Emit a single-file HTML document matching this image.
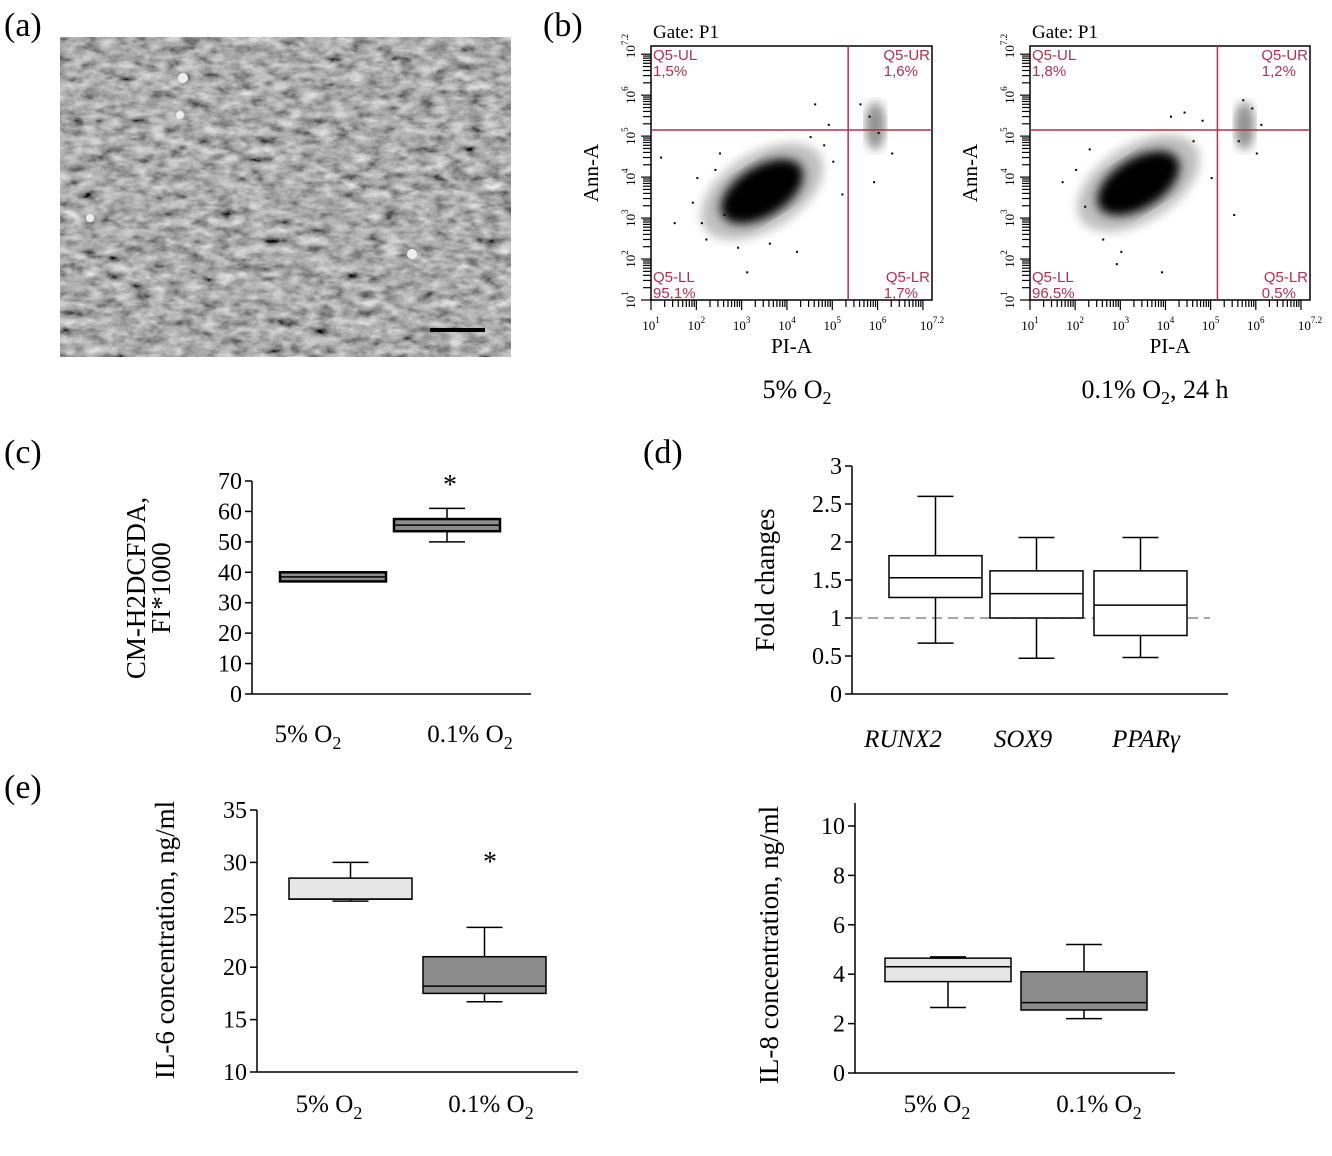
<!DOCTYPE html>
<html><head><meta charset="utf-8"><style>
body{margin:0;background:#fff}
svg{display:block;font-family:"Liberation Serif",serif}
</style></head><body>
<svg id="fig" width="1332" height="1156" viewBox="0 0 1332 1156" xmlns="http://www.w3.org/2000/svg">
<defs>
<filter id="tex" x="0" y="0" width="100%" height="100%">
<feTurbulence type="fractalNoise" baseFrequency="0.06 0.11" numOctaves="4" seed="4"/>
<feColorMatrix type="matrix" values="0.33 0.33 0.33 0 0  0.33 0.33 0.33 0 0  0.33 0.33 0.33 0 0  0 0 0 0 1"/>
<feComponentTransfer><feFuncR type="linear" slope="1.8" intercept="-0.45"/><feFuncG type="linear" slope="1.8" intercept="-0.45"/><feFuncB type="linear" slope="1.8" intercept="-0.45"/></feComponentTransfer>
</filter>
<filter id="blur3"><feGaussianBlur stdDeviation="5"/></filter>
</defs>
<g font-size="34">
<text x="4" y="36">(a)</text>
<text x="543" y="36">(b)</text>
<text x="4" y="463">(c)</text>
<text x="643" y="463">(d)</text>
<text x="4" y="798">(e)</text>
</g>
<g>
<rect x="60" y="37" width="451" height="320" fill="#777"/>
<rect x="60" y="37" width="451" height="320" filter="url(#tex)" opacity="0.9"/>
<circle cx="183" cy="78" r="5" fill="#eee"/><circle cx="180" cy="115" r="4" fill="#eee"/><circle cx="90" cy="218" r="4" fill="#eee"/><circle cx="412" cy="254" r="5" fill="#eee"/>
<rect x="430" y="328" width="55" height="4" fill="#000"/>
</g>
<g id="flow"></g>
<text x="797" y="398" font-size="26" text-anchor="middle">5% O<tspan font-size="18" dy="6">2</tspan></text>
<text x="1155" y="398" font-size="26" text-anchor="middle">0.1% O<tspan font-size="18" dy="6">2</tspan><tspan dy="-6">, 24 h</tspan></text>
<g id="charts"></g>
</svg>
<script>
const NS="http://www.w3.org/2000/svg";
function mk(p,t,a,txt){const e=document.createElementNS(NS,t);for(const k in a)e.setAttribute(k,a[k]);if(txt!==undefined)e.textContent=txt;p.appendChild(e);return e;}
// ---------- flow cytometry data ----------
const flowPlots=["5% O2","0.1% O2"];
const gateX=[5.35,5.15];
const gateY=[5.15,5.15];
const cloudCenterX=[3.45,3.4];
const cloudCenterY=[3.65,3.85];
const quadValsUL=["1,5%","1,8%"];
const quadValsUR=["1,6%","1,2%"];
const quadValsLL=["95,1%","96,5%"];
const quadValsLR=["1,7%","0,5%"];
const outlierX=[[1.2,1.9,2.2,2.6,2.9,4.6,4.9,5.6,5.8,6.0,5.9,6.3,2.4,3.1,4.2,5.0,1.5,2.0,2.5,4.5,4.8,5.2,3.6,2.1],[1.7,2.2,2.6,2.9,4.4,4.8,5.7,5.9,6.1,5.5,6.0,3.9,5.6,2.3,4.1,2.0,4.6,5.0,3.0]];
const outlierY=[[4.5,3.4,2.5,3.1,2.3,5.8,5.3,5.8,5.5,5.1,3.9,4.6,4.2,1.7,2.2,4.4,2.9,4.0,4.6,5.0,4.8,3.6,2.4,2.9],[3.9,3.3,2.5,1.9,5.6,5.4,5.9,5.7,5.3,3.1,4.6,1.7,4.9,4.7,5.5,4.2,4.9,4.0,2.2]];
const flowFrames=[{x0:651,x1:932},{x0:1030,x1:1310}];
const fg=document.getElementById('flow');
flowPlots.forEach((nm,i)=>{
  const F=flowFrames[i],y0=300,y1=46;
  const sx=v=>F.x0+(v-1)/6.2*(F.x1-F.x0), sy=v=>y0-(v-1)/6.2*(y0-y1);
  const g=mk(fg,'g',{});
  
  
  mk(g,'text',{x:F.x0+2,y:38,'font-size':19},'Gate: P1');
  mk(g,'rect',{x:F.x0,y:y1,width:F.x1-F.x0,height:y0-y1,fill:'#fff',stroke:'#000','stroke-width':1.5});
  for(let d=1;d<7.2;d++)for(let m=1;m<10;m++){const v=d+Math.log10(m);if(v>7.2)break;
    mk(g,'line',{x1:sx(v),x2:sx(v),y1:y0,y2:y0+(m==1?10:7),stroke:'#000','stroke-width':1.2});
    mk(g,'line',{y1:sy(v),y2:sy(v),x1:F.x0,x2:F.x0-(m==1?10:8),stroke:'#000','stroke-width':1.2});}
  [1,2,3,4,5,6].forEach(d=>{const t1=mk(g,'text',{x:sx(d),y:y0+30,'font-size':13,'text-anchor':'middle'},'10');mk(t1,'tspan',{dy:-7,'font-size':9},d);
    const t=mk(g,'text',{transform:`translate(${F.x0-16},${sy(d)}) rotate(-90)`,'font-size':13,'text-anchor':'middle'},'10');mk(t,'tspan',{dy:-7,'font-size':9},d);});
  const tx=mk(g,'text',{x:F.x1,y:y0+30,'font-size':13,'text-anchor':'middle'},'10');mk(tx,'tspan',{dy:-7,'font-size':9},'7.2');
  const ty=mk(g,'text',{transform:`translate(${F.x0-16},${y1}) rotate(-90)`,'font-size':13,'text-anchor':'middle'},'10');mk(ty,'tspan',{dy:-7,'font-size':9},'7.2');
  mk(g,'text',{x:(F.x0+F.x1)/2,y:353,'font-size':21,'text-anchor':'middle'},'PI-A');
  mk(g,'text',{transform:`translate(${F.x0-53},${173}) rotate(-90)`,'font-size':21,'text-anchor':'middle'},'Ann-A');
  const cx=sx(cloudCenterX[i]),cy=sy(cloudCenterY[i]);
  mk(g,'ellipse',{cx,cy,rx:68,ry:38,fill:'#000',opacity:0.25,filter:'url(#blur3)',transform:`rotate(-32 ${cx} ${cy})`});
  mk(g,'ellipse',{cx,cy,rx:46,ry:25,fill:'#000',filter:'url(#blur3)',transform:`rotate(-32 ${cx} ${cy})`});
  const ux=sx(gateX[i]+0.6),uy=sy(gateY[i]+0.1);
  mk(g,'ellipse',{cx:ux,cy:uy,rx:10,ry:24,fill:'#222',opacity:0.5,filter:'url(#blur3)'});
  outlierX[i].forEach((v,k)=>{const d=mk(g,'rect',{x:sx(v),y:sy(outlierY[i][k]),width:2,height:2,fill:'#000'});
    });
  mk(g,'line',{x1:sx(gateX[i]),x2:sx(gateX[i]),y1:y1,y2:y0,stroke:'#b03050','stroke-width':1.5});
  mk(g,'line',{y1:sy(gateY[i]),y2:sy(gateY[i]),x1:F.x0,x2:F.x1,stroke:'#b03050','stroke-width':1.5});
  const lab={fill:'#b03050','font-family':'"Liberation Sans",sans-serif','font-size':15};
  mk(g,'text',Object.assign({x:F.x0+2,y:y1+14},lab),'Q5-UL');mk(g,'text',Object.assign({x:F.x0+2,y:y1+30},lab),quadValsUL[i]);
  mk(g,'text',Object.assign({x:F.x1-2,y:y1+14,'text-anchor':'end'},lab),'Q5-UR');mk(g,'text',Object.assign({x:F.x1-14,y:y1+30,'text-anchor':'end'},lab),quadValsUR[i]);
  mk(g,'text',Object.assign({x:F.x0+2,y:y0-18},lab),'Q5-LL');mk(g,'text',Object.assign({x:F.x0+2,y:y0-2},lab),quadValsLL[i]);
  mk(g,'text',Object.assign({x:F.x1-2,y:y0-18,'text-anchor':'end'},lab),'Q5-LR');mk(g,'text',Object.assign({x:F.x1-14,y:y0-2,'text-anchor':'end'},lab),quadValsLR[i]);
});
// ---------- box plots data ----------
const cCats=["5% O2","0.1% O2"];
const cMin=[37,50],cQ1=[37,53.5],cMed=[38.5,55.5],cQ3=[40,57.5],cMax=[40,61];
const cTicks=[0,10,20,30,40,50,60,70];
const dCats=["RUNX2","SOX9","PPARγ"];
const dMin=[0.67,0.47,0.48],dQ1=[1.27,1.0,0.77],dMed=[1.53,1.32,1.17],dQ3=[1.82,1.62,1.62],dMax=[2.6,2.06,2.06];
const dTicks=[0,0.5,1,1.5,2,2.5,3];
const e6Cats=["5% O2","0.1% O2"];
const e6Min=[26.3,16.7],e6Q1=[26.5,17.5],e6Med=[26.5,18.2],e6Q3=[28.5,21],e6Max=[30,23.8];
const e6Ticks=[10,15,20,25,30,35];
const e8Cats=["5% O2","0.1% O2"];
const e8Min=[2.65,2.2],e8Q1=[3.7,2.55],e8Med=[4.3,2.85],e8Q3=[4.65,4.1],e8Max=[4.7,5.2];
const e8Ticks=[0,2,4,6,8,10];
const cg=document.getElementById('charts');
function boxChart(o){
  const g=mk(cg,'g',{});
  
  
  const sy=v=>o.yb-(v-o.lo)/(o.hi-o.lo)*(o.yb-o.yt);
  mk(g,'line',{x1:o.ax,x2:o.ax,y1:o.axTop,y2:o.yb,stroke:'#000','stroke-width':1.5});
  mk(g,'line',{x1:o.ax,x2:o.axEnd,y1:o.yb,y2:o.yb,stroke:'#000','stroke-width':1.5});
  o.ticks.forEach(t=>{mk(g,'line',{x1:o.ax-7,x2:o.ax,y1:sy(t),y2:sy(t),stroke:'#000','stroke-width':1.5});
    const l=mk(g,'text',{x:o.ax-10,y:sy(t)+8,'font-size':24,'text-anchor':'end'},t);});
  if(o.dash){const dl=mk(g,'line',{x1:o.ax,x2:o.axEnd-18,y1:sy(1),y2:sy(1),stroke:'#888','stroke-width':1.5,'stroke-dasharray':'10 6'});
    }
  o.cats.forEach((c,i)=>{
    const x0=o.bx[i],x1=x0+o.bw,xm=(x0+x1)/2;
    const b=mk(g,'g',{});
    
    
    mk(b,'line',{x1:xm,x2:xm,y1:sy(o.max[i]),y2:sy(o.min[i]),stroke:'#000','stroke-width':1.5});
    mk(b,'line',{x1:xm-18,x2:xm+18,y1:sy(o.max[i]),y2:sy(o.max[i]),stroke:'#000','stroke-width':1.5});
    mk(b,'line',{x1:xm-18,x2:xm+18,y1:sy(o.min[i]),y2:sy(o.min[i]),stroke:'#000','stroke-width':1.5});
    mk(b,'rect',{x:x0,y:sy(o.q3[i]),width:o.bw,height:sy(o.q1[i])-sy(o.q3[i]),fill:o.fill[i],stroke:'#000','stroke-width':o.sw||1.5});
    mk(b,'line',{x1:x0,x2:x1,y1:sy(o.med[i]),y2:sy(o.med[i]),stroke:'#000','stroke-width':1.5});
    const lab=mk(g,'text',{x:o.lx[i],y:o.labY,'font-size':25,'text-anchor':'middle','font-style':o.italic?'italic':'normal'},'');
    
    if(c.endsWith('O2')){lab.textContent=c.slice(0,-1);mk(lab,'tspan',{dy:7,'font-size':18},'2');}else lab.textContent=c;
  });
  o.ylab.forEach((t,k)=>{const l=mk(g,'text',{transform:`translate(${o.ylx+k*25},${o.yly}) rotate(-90)`,'font-size':o.yfs||27,'text-anchor':'middle'},t);
    });
  (o.stars||[]).forEach(s=>{const st=mk(g,'text',{x:s[0],y:s[1],'font-size':28,'text-anchor':'middle'},'*');
    });
}
boxChart({name:'chart-c-ros',cats:cCats,min:cMin,q1:cQ1,med:cMed,q3:cQ3,max:cMax,ticks:cTicks,lo:0,hi:70,yb:694,yt:481,ax:252,axTop:481,axEnd:531,bx:[280,394],bw:106,fill:['#8c8c8c','#8c8c8c'],sw:2.5,labY:742,lx:[308,470],ylx:145,yly:588,ylab:['CM-H2DCFDA,','FI*1000'],stars:[[450,494]]});
boxChart({name:'chart-d-fold',cats:dCats,min:dMin,q1:dQ1,med:dMed,q3:dQ3,max:dMax,ticks:dTicks,lo:0,hi:3,yb:694,yt:466,ax:852,axTop:466,axEnd:1228,bx:[889,990,1094],bw:93,fill:['#fff','#fff','#fff'],labY:747,lx:[903,1023,1146],italic:true,ylx:774,yly:580,ylab:['Fold changes'],dash:true});
boxChart({name:'chart-e-il6',cats:e6Cats,min:e6Min,q1:e6Q1,med:e6Med,q3:e6Q3,max:e6Max,ticks:e6Ticks,lo:10,hi:35,yb:1072,yt:810,ax:257,axTop:810,axEnd:578,bx:[289,423],bw:123,fill:['#e6e6e6','#8c8c8c'],labY:1112,lx:[329,491],ylx:174,yly:940,ylab:['IL-6 concentration, ng/ml'],stars:[[490,871]]});
boxChart({name:'chart-e-il8',cats:e8Cats,min:e8Min,q1:e8Q1,med:e8Med,q3:e8Q3,max:e8Max,ticks:e8Ticks,lo:0,hi:10,yb:1073,yt:826,ax:855,axTop:803,axEnd:1175,bx:[885,1021],bw:126,fill:['#e6e6e6','#8c8c8c'],labY:1112,lx:[937,1099],ylx:778,yly:945,ylab:['IL-8 concentration, ng/ml']});
</script>
</body></html>
